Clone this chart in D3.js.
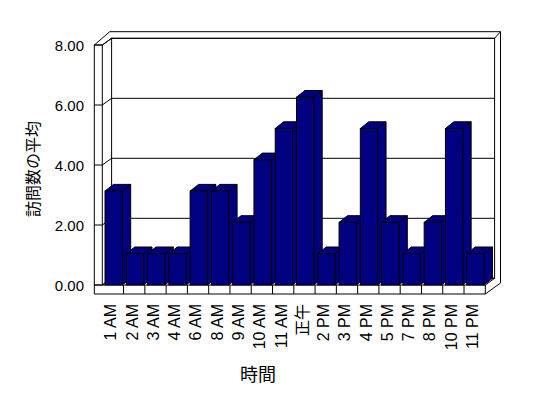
<!DOCTYPE html>
<html>
<head>
<meta charset="utf-8">
<script src="https://cdn.jsdelivr.net/npm/d3@7"></script>
<style>
html,body{margin:0;padding:0;background:#fff;}
svg{display:block;}
</style>
</head>
<body>
<script>
const categories = ["1 AM","2 AM","3 AM","4 AM","6 AM","8 AM","9 AM","10 AM","11 AM","正午","2 PM","3 PM","4 PM","5 PM","7 PM","8 PM","10 PM","11 PM"];
const values = [3,1,1,1,3,3,2,4,5,6,1,2,5,2,1,2,5,1];
const yTicks = [0,2,4,6,8];
const yTickLabels = ["0.00","2.00","4.00","6.00","8.00"];
const xTitle = "時間";
const yTitle = "訪問数の平均";

const W = 548, H = 398;
const svg = d3.select("body").append("svg").attr("width", W).attr("height", H);

const x = d3.scaleBand().domain(categories).range([102.3, 485.3]).padding(0);
const yFront = d3.scaleLinear().domain([0,8]).range([285,45]);
const yBack = d3.scaleLinear().domain([0,8]).range([278.3,38.3]);
const yBar = d3.scaleLinear().domain([0,8]).range([285, 285-8*31.3]);
const DX = 9.3, DY = 6.7;      // inner depth
const BDX = 8.4, BDY = 6.7;    // bar depth
const barOff = 2.7, barW = 17.3;

const g = svg.append("g");
const line = (x1,y1,x2,y2) => g.append("line").attr("x1",x1).attr("y1",y1).attr("x2",x2).attr("y2",y2).attr("stroke","#000").attr("stroke-width",1);

const L = 94.3, Li = 102.3, R = 485.3;
const backL = Li + DX, backR = R + DX;
// outer outline
g.append("path")
  .attr("d", `M${L},${yFront(8)} L109.8,31.7 L500.5,31.7 L500.5,283 L${R},294 L${L},294 Z`)
  .attr("fill","#fff").attr("stroke","#000");
// back wall face
g.append("rect").attr("x",backL).attr("y",yBack(8)).attr("width",backR-backL).attr("height",yBack(0)-yBack(8))
  .attr("fill","#fff").attr("stroke","#000");
// gridlines
yTicks.forEach(v => { line(backL, yBack(v), backR, yBack(v)); });
line(backR, yBack(8), 500.5, 31.7);
// left wall front face
line(Li, yFront(8), Li, 285);
line(L, yFront(8), Li, yFront(8));
line(Li, yFront(8), backL, yBack(8));
// floor top
g.append("path").attr("d", `M${Li},285 L${R},285 L${backR},${yBack(0)} L${backL},${yBack(0)} Z`).attr("fill","#fff").attr("stroke","#000");
// floor front face
line(L, 285, Li, 285);
line(R, 285, R, 294);
categories.forEach((c,i) => { if (i>0) line(x(c), 285, x(c), 294); });
// left wall ticks
yTicks.forEach(v => {
  line(L, yFront(v), Li, yFront(v));
  line(Li, yFront(v), backL, yBack(v));
});
// y labels
svg.append("g").selectAll("text").data(yTicks).join("text")
  .attr("x", 84).attr("y", d => yFront(d) + 5.5)
  .attr("text-anchor","end")
  .attr("font-family","'Liberation Sans', Arial, sans-serif").attr("font-size",15)
  .text((d,i) => yTickLabels[i]);

// bars
const bars = svg.append("g");
categories.forEach((c,i) => {
  const v = values[i];
  const x0 = x(c) + barOff, x1 = x0 + barW;
  const yt = yBar(v), yb = yBar(0);
  const bg = bars.append("g").attr("fill","#000080").attr("stroke","#000").attr("stroke-width",1);
  bg.append("path").attr("d", `M${x1},${yb} L${x1+BDX},${yb-BDY} L${x1+BDX},${yt-BDY} L${x1},${yt} Z`);
  bg.append("path").attr("d", `M${x0},${yt} L${x0+BDX},${yt-BDY} L${x1+BDX},${yt-BDY} L${x1},${yt} Z`);
  bg.append("rect").attr("x",x0).attr("y",yt).attr("width",barW).attr("height",yb-yt);
});

// x labels
svg.append("g").selectAll("text").data(categories).join("text")
  .attr("transform", d => `translate(${x(d)+8.5},304) rotate(-90)`)
  .attr("text-anchor","end").attr("dominant-baseline","central")
  .attr("font-family","'Liberation Sans', Arial, 'Noto Sans CJK JP', sans-serif").attr("font-size",16)
  .text(d => d);

// titles
svg.append("text").attr("x",258).attr("y",381).attr("text-anchor","middle")
  .attr("font-family","'Noto Sans CJK JP', sans-serif").attr("font-size",18).text(xTitle);
svg.append("text").attr("transform","translate(32,169) rotate(-90)").attr("text-anchor","middle")
  .attr("dominant-baseline","central")
  .attr("font-family","'Noto Sans CJK JP', sans-serif").attr("font-size",16).text(yTitle);
</script>
</body>
</html>
